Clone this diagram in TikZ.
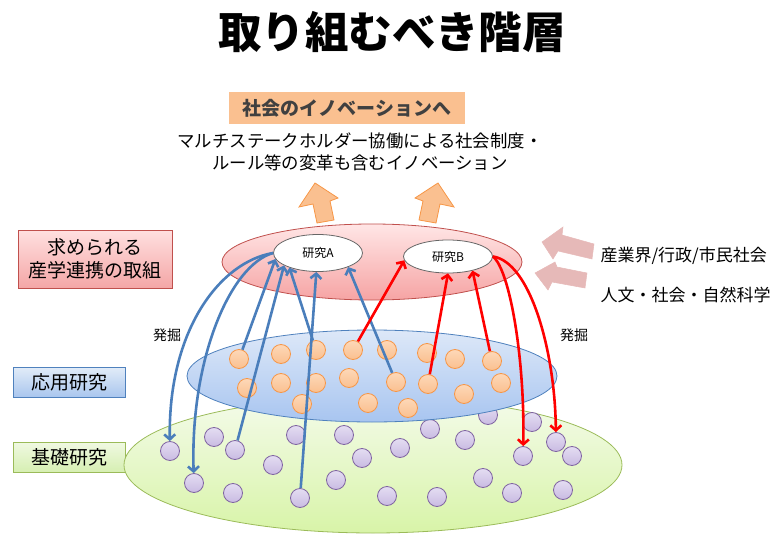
\documentclass[tikz,border=0pt]{standalone}
\usepackage{fontspec}
\setmainfont{Noto Sans CJK JP}
\usetikzlibrary{arrows.meta,shapes.geometric}
\definecolor{arrBlue}{HTML}{4A7EBB}
\definecolor{arrRed}{HTML}{FF0000}
\definecolor{peach}{HTML}{FAC090}
\definecolor{peachTop}{HTML}{FDD8B8}
\definecolor{peachBorder}{HTML}{F79646}
\definecolor{pinkArrow}{HTML}{E6B9B8}
\definecolor{redBorder}{HTML}{C0504D}
\definecolor{blueBorder}{HTML}{4F81BD}
\definecolor{greenBorder}{HTML}{9BBB59}
\definecolor{purpleBorder}{HTML}{8064A2}
\definecolor{textGray}{HTML}{404040}
\definecolor{purpleTop}{HTML}{E4DDF2}
\definecolor{purpleBot}{HTML}{C9BBE2}
\definecolor{lredTop}{HTML}{FFE0E0}
\definecolor{lredBot}{HTML}{F4A6A6}
\definecolor{lblueTop}{HTML}{E2ECF8}
\definecolor{lblueBot}{HTML}{A9C6EE}
\definecolor{lgreenTop}{HTML}{F0F9E2}
\definecolor{lgreenBot}{HTML}{D6EFB2}
\definecolor{greenTop}{HTML}{F4FBEA}
\definecolor{greenBot}{HTML}{D8F4A8}
\definecolor{blueTop}{HTML}{DDE8F8}
\definecolor{blueBot}{HTML}{A8C5F0}
\definecolor{redTop}{HTML}{FFE6E6}
\definecolor{redBot}{HTML}{F6A4A4}
\tikzset{
  ocirc/.style={circle, inner sep=0pt, minimum size=19pt, draw=peachBorder, line width=0.8pt, top color=peachTop, bottom color=peach},
  pcirc/.style={circle, inner sep=0pt, minimum size=19pt, draw=purpleBorder, line width=0.8pt, top color=purpleTop, bottom color=purpleBot},
  layer/.style={ellipse, inner sep=0pt, line width=0.8pt},
  resnode/.style={ellipse, inner sep=0pt, fill=white, draw=gray!80!black, line width=0.8pt, font=\fontsize{12}{14}\selectfont},
  lbox/.style={rectangle, inner sep=0pt, line width=0.8pt, align=center, font=\fontsize{19}{23}\selectfont},
  barrow/.style={draw=arrBlue, line width=2.6pt, -{Straight Barb[length=5pt,width=11pt]}},
  rarrow/.style={draw=arrRed, line width=2.6pt, -{Straight Barb[length=5pt,width=11pt]}},
  orangeblock/.style={fill=peach, draw=peachBorder, line width=0.8pt, line join=miter},
  pinkblock/.style={fill=pinkArrow, draw=pinkArrow, line width=0.5pt},
}
\begin{document}
\begin{tikzpicture}[x=1pt,y=-1pt]
\useasboundingbox (0,0) rectangle (772,535);

% title
\node[font=\bfseries\fontsize{43.5}{50}\selectfont] (title) at (392,32) {取り組むべき階層};

% goal box
\node[fill=peach, minimum width=236pt, minimum height=32pt, inner sep=0pt, text=textGray,
      font=\bfseries\fontsize{19}{22}\selectfont] (goal) at (347,108) {社会のイノベーションへ};
\node[align=center, font=\fontsize{17.4}{22}\selectfont] (sub) at (360,152)
  {マルチステークホルダー協働による社会制度・\\ルール等の変革も含むイノベーション};

% orange block arrows
\draw[orangeblock] (315,183) -- (338,198) -- (330,201) -- (334,220) -- (317,223) -- (313,204) -- (299,207) -- cycle;
\draw[orangeblock] (438,183) -- (454,207) -- (440,204) -- (436,223) -- (419,220) -- (423,201) -- (415,198) -- cycle;

% pink block arrows
\draw[pinkblock] (542,242) -- (563,227) -- (562,235) -- (594,244) -- (592,259) -- (558,251) -- (553,259) -- cycle;
\draw[pinkblock] (535,273) -- (555,262) -- (557,267) -- (587,273) -- (585,288) -- (552,282) -- (548,290) -- cycle;

% right labels
\node[anchor=west, font=\fontsize{17}{20}\selectfont] (r1) at (597,256) {産業界/行政/市民社会};
\node[anchor=west, font=\fontsize{17}{20}\selectfont] (r2) at (597,295) {人文・社会・自然科学};

% left labels
\node[lbox, draw=redBorder, top color=lredTop, bottom color=lredBot, minimum width=154pt, minimum height=58pt] (L1) at (95,259) {求められる\\産学連携の取組};
\node[lbox, draw=blueBorder, top color=lblueTop, bottom color=lblueBot, minimum width=112pt, minimum height=30pt] (L2) at (69,382) {応用研究};
\node[lbox, draw=greenBorder, top color=lgreenTop, bottom color=lgreenBot, minimum width=112pt, minimum height=30pt] (L3) at (69,457) {基礎研究};

% digging labels
\node[font=\fontsize{14}{16}\selectfont] (d1) at (167,335) {発掘};
\node[font=\fontsize{14}{16}\selectfont] (d2) at (574,335) {発掘};

% basic research layer
\node[layer, draw=greenBorder, top color=greenTop, bottom color=greenBot, minimum width=498pt, minimum height=136pt] (green) at (373,465) {};
\foreach \n/\x/\y in {p1/170/451, p2/214/437, p3/235/450, p4/273/465, p5/296/435, p6/344/435,
  p7/362/458, p8/400/448, p9/194/483, p10/233/493, p11/300/498, p12/336/480, p13/387/496,
  p14/488/415, p15/430/429, p16/465/440, p17/532/422, p18/523/456, p19/556/442, p20/572/456,
  p21/483/478, p22/512/493, p23/563/490, p24/437/497}
  \node[pcirc] (\n) at (\x,\y) {};

% applied research layer
\node[layer, draw=blueBorder, top color=blueTop, bottom color=blueBot, minimum width=370pt, minimum height=92pt] (blue) at (372,376) {};
\foreach \n/\x/\y in {o1/239/359, o2/281/354, o3/316/350, o4/353/350, o5/387/350, o6/427/353,
  o7/455/359, o8/492/361, o9/247/388, o10/281/383, o11/316/383, o12/349/378, o13/396/382,
  o14/428/384, o15/464/394, o16/501/383, o17/302/404, o18/368/403, o19/408/408}
  \node[ocirc] (\n) at (\x,\y) {};

% collaboration layer
\node[layer, draw=redBorder, top color=redTop, bottom color=redBot, minimum width=300pt, minimum height=76pt] (red) at (372,262) {};
\node[resnode, minimum width=89pt, minimum height=37pt] (A) at (318,253) {研究A};
\node[resnode, minimum width=89pt, minimum height=33pt] (B) at (448,256.5) {研究B};

% blue connectors
\draw[barrow] (o1) -- (A.188);
\draw[barrow] (p3) -- (A.200);
\draw[barrow] (o3) -- (A.207);
\draw[barrow] (p11) -- (A.265);
\draw[barrow] (o13) -- (A.335);
\draw[barrow] (A.west) .. controls (220,262) and (168,330) .. (p1);
\draw[barrow] (A.west) .. controls (230,265) and (190,360) .. (p9);

% red connectors
\draw[rarrow] (o4) -- (B.185);
\draw[rarrow] (o14) -- (B.270);
\draw[rarrow] (o8) -- (B.330);
\draw[rarrow] (B.east) .. controls (510,270) and (525,360) .. (p18);
\draw[rarrow] (B.east) .. controls (530,262) and (555,350) .. (p19);
\end{tikzpicture}
\end{document}
